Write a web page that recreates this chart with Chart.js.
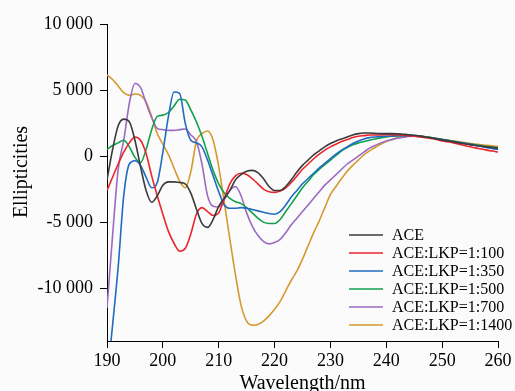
<!DOCTYPE html>
<html>
<head>
<meta charset="utf-8">
<script src="https://cdn.jsdelivr.net/npm/chart.js@4.4.1/dist/chart.umd.min.js"></script>
<style>
  html, body { margin: 0; padding: 0; background: #fbfbfb; }
  canvas { display: block; }
</style>
</head>
<body>
<canvas id="cd" width="515" height="391"></canvas>
<script>
// CD spectra, wavelength 190-260 nm
const wavelengths = [
  190, 191, 192, 193, 194, 195, 196, 197, 198, 199,
  200, 201, 202, 203, 204, 205, 206, 207, 208, 209,
  210, 211, 212, 213, 214, 215, 216, 217, 218, 219,
  220, 221, 222, 223, 224, 225, 226, 227, 228, 229,
  230, 231, 232, 233, 234, 235, 236, 237, 238, 239,
  240, 241, 242, 243, 244, 245, 246, 247, 248, 249,
  250, 251, 252, 253, 254, 255, 256, 257, 258, 259, 260
];

const seriesLabels = ['ACE', 'ACE:LKP=1:100', 'ACE:LKP=1:350', 'ACE:LKP=1:500', 'ACE:LKP=1:700', 'ACE:LKP=1:1400'];
const seriesColors = ['#3a3a3a', '#e8262c', '#1f6cc0', '#10a04c', '#9b6bc2', '#d49a30'];

const aceVals = [
  -1800, 500, 2300, 2800, 2600, 1200, -800, -2600, -3500, -3000,
  -2200, -1950, -1950, -2000, -2100, -2800, -4000, -5100, -5400, -4800,
  -3800, -3200, -2600, -1800, -1400, -1150, -1080, -1250, -1700, -2300,
  -2600, -2600, -2300, -1800, -1200, -700, -300, 100, 400, 700,
  950, 1150, 1300, 1450, 1600, 1700, 1750, 1750, 1720, 1700,
  1700, 1700, 1680, 1650, 1620, 1580, 1520, 1450, 1380, 1300,
  1220, 1150, 1080, 1000, 930, 870, 800, 750, 700, 650, 600
];
const lkp100 = [
  -2600, -1600, -600, 300, 1000, 1450, 1200, 200, -1500, -3000,
  -4400, -5700, -6600, -7200, -7000, -5900, -4400, -3900, -4200, -4500,
  -4300, -3200, -2100, -1500, -1300, -1400, -1700, -2100, -2500, -2700,
  -2750, -2650, -2400, -2000, -1500, -1000, -600, -200, 150, 450,
  700, 900, 1100, 1250, 1400, 1500, 1550, 1600, 1600, 1600,
  1620, 1620, 1600, 1580, 1550, 1500, 1450, 1400, 1330, 1250,
  1150, 1080, 1000, 900, 800, 700, 620, 530, 450, 380, 300
];
const lkp350 = [
  -17000, -12800, -8400, -3000, -600, -350, -700, -1600, -2400, -2000,
  300, 3000, 4850, 4750, 2500, 1200, 1000, 700, -300, -1500,
  -2700, -3700, -3950, -3950, -3900, -3950, -4050, -4150, -4250, -4350,
  -4400, -4200, -3700, -3100, -2600, -2100, -1700, -1300, -900, -550,
  -200, 150, 450, 700, 950, 1150, 1300, 1400, 1450, 1480,
  1500, 1520, 1540, 1550, 1550, 1530, 1500, 1450, 1390, 1320,
  1250, 1170, 1100, 1030, 960, 890, 820, 740, 660, 580, 500
];
const lkp500 = [
  500, 800, 1000, 1200, 700, -100, -500, 500, 2000, 3000,
  3100, 3300, 3800, 4300, 4250, 3500, 2600, 1500, 200, -1100,
  -2100, -2800, -3200, -3450, -3600, -3900, -4300, -4700, -5000, -5100,
  -5100, -4800, -4200, -3600, -3000, -2400, -1900, -1400, -1000, -650,
  -300, 50, 400, 650, 850, 1000, 1100, 1200, 1300, 1380,
  1450, 1500, 1530, 1560, 1560, 1550, 1510, 1460, 1400, 1330,
  1260, 1190, 1120, 1050, 980, 910, 850, 790, 730, 680, 640
];
const lkp700 = [
  -11500, -6000, -1000, 1200, 4000, 5500, 5200, 4000, 2900, 2100,
  2000, 1950, 1950, 2000, 2050, 1600, 1100, -600, -3000, -3800,
  -3850, -3300, -2600, -2300, -3000, -4300, -5300, -6000, -6450, -6650,
  -6550, -6300, -5800, -5200, -4700, -4200, -3700, -3200, -2700, -2200,
  -1800, -1400, -1000, -600, -300, 0, 300, 600, 800, 1000,
  1150, 1250, 1350, 1420, 1480, 1500, 1490, 1450, 1390, 1320,
  1250, 1170, 1100, 1020, 950, 870, 800, 720, 650, 580, 520
];
const lkp1400 = [
  6150, 5800, 5300, 4800, 4600, 4700, 4600, 4100, 3000, 1700,
  900, 100, -900, -1900, -2400, -1200, 1100, 1700, 1900, 1200,
  -800, -3500, -6300, -9000, -11300, -12500, -12800, -12750, -12500, -12100,
  -11600, -11000, -10200, -9400, -8700, -7800, -6800, -5800, -4900, -3900,
  -2900, -2300, -1700, -1150, -700, -300, 100, 400, 650, 900,
  1100, 1250, 1400, 1480, 1520, 1530, 1500, 1460, 1410, 1350,
  1280, 1210, 1150, 1080, 1020, 960, 910, 860, 810, 770, 740
];

const seriesValues = [aceVals, lkp100, lkp350, lkp500, lkp700, lkp1400];
const yTicks = [-10000, -5000, 0, 5000, 10000];
const xTicks = [190, 200, 210, 220, 230, 240, 250, 260];

const SERIF = '"Liberation Serif", "DejaVu Serif", serif';

function fmtThousands(v) {
  const s = String(Math.abs(v)).replace(/\B(?=(\d{3})+(?!\d))/g, ' ');
  return (v < 0 ? '-' : '') + s;
}

// axis titles + legend drawn inside the plot, like the figure
const overlayPlugin = {
  id: 'overlay',
  afterDraw(chart) {
    const { ctx } = chart;
    ctx.save();
    ctx.fillStyle = '#000';
    ctx.font = `20px ${SERIF}`;
    ctx.textAlign = 'center';
    ctx.textBaseline = 'middle';
    ctx.save();
    ctx.translate(22, 172);
    ctx.rotate(-Math.PI / 2);
    ctx.fillText('Ellipticities', 0, 0);
    ctx.restore();

    ctx.textBaseline = 'alphabetic';
    ctx.fillText('Wavelength/nm', (chart.chartArea.left + chart.chartArea.right) / 2, 389);

    ctx.font = `16px ${SERIF}`;
    ctx.textAlign = 'left';
    ctx.textBaseline = 'middle';
    chart.data.datasets.forEach((ds, i) => {
      const y = 235 + i * 18;
      ctx.strokeStyle = ds.borderColor;
      ctx.lineWidth = 1.5;
      ctx.beginPath();
      ctx.moveTo(349, y);
      ctx.lineTo(383, y);
      ctx.stroke();
      ctx.fillStyle = '#000';
      ctx.fillText(ds.label, 392, y + 1);
    });
    ctx.restore();
  }
};

new Chart(document.getElementById('cd'), {
  type: 'line',
  data: {
    datasets: seriesLabels.map((label, i) => ({
      label,
      data: wavelengths.map((w, k) => ({ x: w, y: seriesValues[i][k] })),
      borderColor: seriesColors[i],
      backgroundColor: seriesColors[i],
      borderWidth: 1.6,
      pointRadius: 0,
      cubicInterpolationMode: 'monotone',
      fill: false
    }))
  },
  options: {
    responsive: false,
    animation: false,
    layout: { padding: { left: 0, right: 17, top: 24, bottom: 0 } },
    plugins: {
      legend: { display: false },
      tooltip: { enabled: false }
    },
    scales: {
      x: {
        type: 'linear',
        min: 190,
        max: 260,
        afterFit: (s) => { s.height = 50; },
        afterBuildTicks: (s) => { s.ticks = xTicks.map(v => ({ value: v })); },
        border: { color: '#000', width: 1 },
        grid: { drawOnChartArea: false, drawTicks: true, tickLength: 7, color: '#000' },
        ticks: {
          color: '#000',
          font: { family: SERIF, size: 18 },
          padding: 2,
          maxRotation: 0,
          callback: (v) => String(v)
        }
      },
      y: {
        min: -14000,
        max: 10000,
        afterFit: (s) => { s.width = 107; },
        afterBuildTicks: (s) => { s.ticks = yTicks.map(v => ({ value: v })); },
        border: { color: '#000', width: 1 },
        grid: { drawOnChartArea: false, drawTicks: true, tickLength: 7, color: '#000' },
        ticks: {
          color: '#000',
          font: { family: SERIF, size: 18 },
          padding: 7,
          callback: (v) => fmtThousands(v)
        }
      }
    }
  },
  plugins: [overlayPlugin]
});
</script>
</body>
</html>
